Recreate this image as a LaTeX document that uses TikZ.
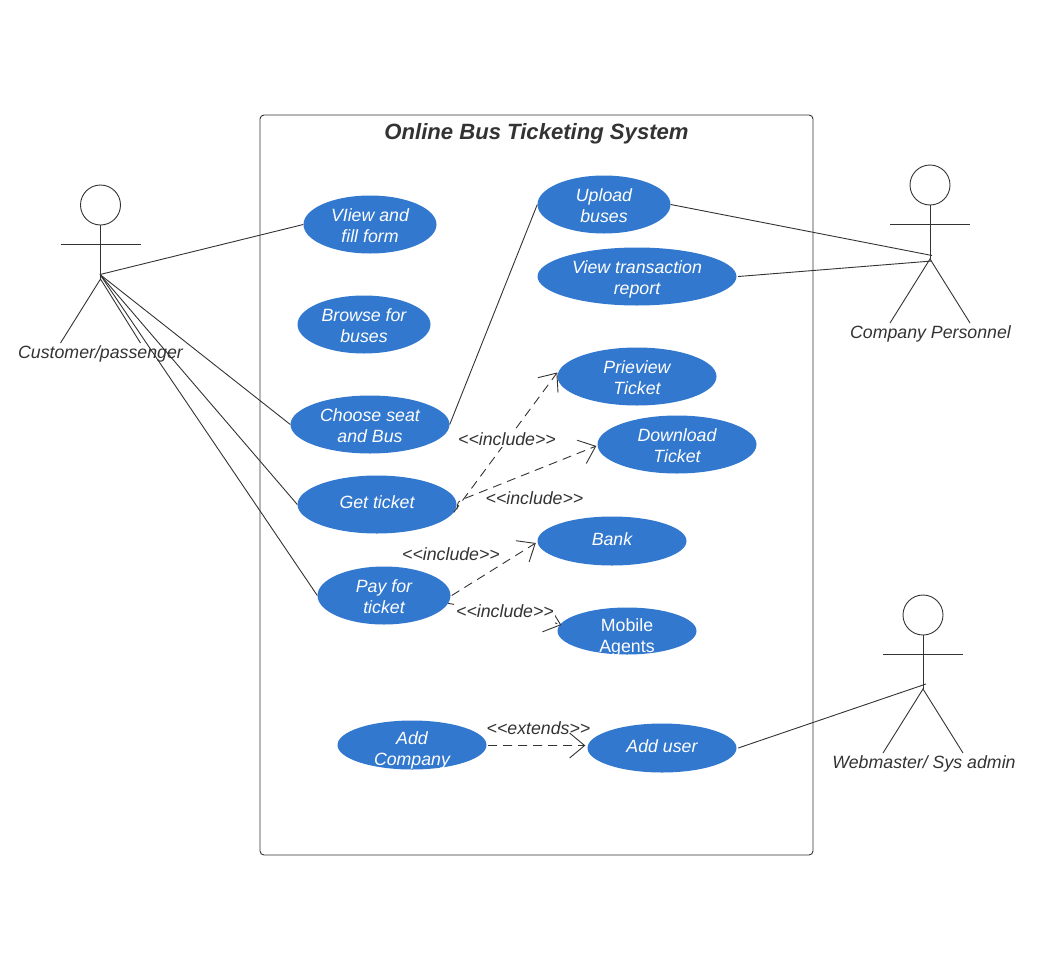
\documentclass[tikz,border=0pt]{standalone}
\usepackage{fontspec}
\setmainfont{Liberation Sans}
\usetikzlibrary{shapes.geometric,arrows.meta}
\definecolor{ucblue}{HTML}{3278CE}
\definecolor{ink}{HTML}{333333}
\newcommand{\bodyfont}{\fontsize{17.75bp}{21bp}\selectfont}
\newcommand{\pd}{\rule{0pt}{15bp}}
\tikzset{
  usecase/.style={ellipse,fill=ucblue,text=white,inner sep=0pt,minimum width=#1,minimum height=58bp,align=center,
    font=\bodyfont\itshape},
  usecase/.default=159bp,
  ln/.style={draw=ink,line width=0.9bp},
  dep/.style={ln,dash pattern=on 9bp off 6bp,-{Straight Barb[length=15bp,width=25bp,line width=0.9bp]}},
  tag/.style={text=ink,font=\bodyfont\itshape,inner sep=1bp},
}
\newcommand{\actor}[3]{%
  \draw[ln] (#2,#3) circle (20bp);
  \draw[ln] (#2,#3+20) -- (#2,#3+74);
  \draw[ln] (#2-40,#3+39) -- (#2+40,#3+39);
  \draw[ln] (#2-40,#3+138) -- (#2,#3+74) -- (#2+40,#3+138);
  \coordinate (#1) at (#2,#3+69);
}
\begin{document}
\begin{tikzpicture}[x=1bp,y=-1bp]
\useasboundingbox (0,0) rectangle (1038,962);
\draw[ln,rounded corners=4bp] (260,115) rectangle (813,855);
\node[text=ink,font=\fontsize{22.1bp}{26bp}\selectfont\bfseries\itshape] (title) at (536.5,134) {Online Bus Ticketing System};

\node[usecase=133bp] (view) at (370,224.5) {\pd VIiew and\\fill form};
\node[usecase=133bp] (browse) at (364,324.5) {\pd Browse for\\buses};
\node[usecase=159bp] (choose) at (370,424.5) {\pd Choose seat\\and Bus};
\node[usecase=159bp] (get) at (377,504.5) {\raisebox{5bp}{Get ticket}};
\node[usecase=133bp] (pay) at (384,595.5) {\pd Pay for\\ticket};
\node[usecase=133bp] (upload) at (604,204.5) {\pd Upload\\buses};
\node[usecase=199bp,inner sep=-8bp] (report) at (637,276.5) {\rule{0pt}{19bp}View transaction\\report};
\node[usecase=159bp] (preview) at (637,376.5) {\pd Prieview\\Ticket};
\node[usecase=159bp] (download) at (677,444.5) {\pd Download\\Ticket};
\node[usecase=149bp,minimum height=49bp] (bank) at (612,541) {\raisebox{4bp}{Bank}};
\node[usecase=139bp,minimum height=47bp,
  path picture={\node[text=white,align=center,font=\bodyfont] at ([yshift=-6.5bp]path picture bounding box.center) {Mobile\\Agents};}] (mobile) at (627,631) {};
\node[usecase=149bp,minimum height=49bp,
  path picture={\node[text=white,align=center,font=\bodyfont\itshape] at ([yshift=-5.5bp]path picture bounding box.center) {Add\\Company};}] (company) at (412,745) {};
\node[usecase=149bp,minimum height=49bp] (adduser) at (662,748) {\raisebox{4bp}{Add user}};

\actor{cust}{100.5}{205}
\actor{comp}{930}{185}
\actor{web}{923}{615}
\coordinate (custhub) at (100,274.5);
\coordinate (comphuba) at (932,255.5);
\coordinate (comphubb) at (932,261);
\coordinate (webhub) at (926,684);
\coordinate (mobilebend) at (545,619.5);

\node[tag] (custlabel) at (100.5,354) {Customer/passenger};
\node[tag] (complabel) at (930.5,334) {Company Personnel};
\node[tag] (weblabel) at (924,764) {Webmaster/ Sys admin};

\draw[ln] (custhub) -- (view.west);
\draw[ln] (custhub) -- (choose.west);
\draw[ln] (custhub) -- (get.west);
\draw[ln] (custhub) -- (pay.west);
\draw[ln] (choose.east) -- (upload.west);
\draw[ln] (upload.east) -- (comphuba);
\draw[ln] ([xshift=1.5bp]report.east) -- (comphubb);
\draw[ln] ([xshift=1.5bp]adduser.east) -- (webhub);

\draw[dep] (get.-6) -- (preview.west|-0,372.5);
\draw[dep] (458,506) to[out=-100,in=-160,looseness=2] (461,500) -- ([xshift=-1bp,yshift=-1.5bp]download.west);
\draw[dep] ([xshift=1bp]pay.east) -- ([xshift=-1.5bp,yshift=-2bp]bank.west);
\draw[dep,dash phase=3bp] (pay.-7) -- (mobilebend) -- ([xshift=4bp,yshift=6bp]mobile.west);
\draw[dep] ([xshift=1.5bp,yshift=-0.5bp]company.east) -- ([xshift=-2bp,yshift=2.5bp]adduser.west);

\node[tag,fill=white] (inca) at (507,439) {<{}<include>{}>};
\node[tag] (incb) at (534.5,498) {<{}<include>{}>};
\node[tag] (incc) at (451,554) {<{}<include>{}>};
\node[tag,fill=white,inner ysep=6bp] (incd) at (505,611) {<{}<include>{}>};
\node[tag] (ext) at (538.5,728) {<{}<extends>{}>};
\end{tikzpicture}
\end{document}
